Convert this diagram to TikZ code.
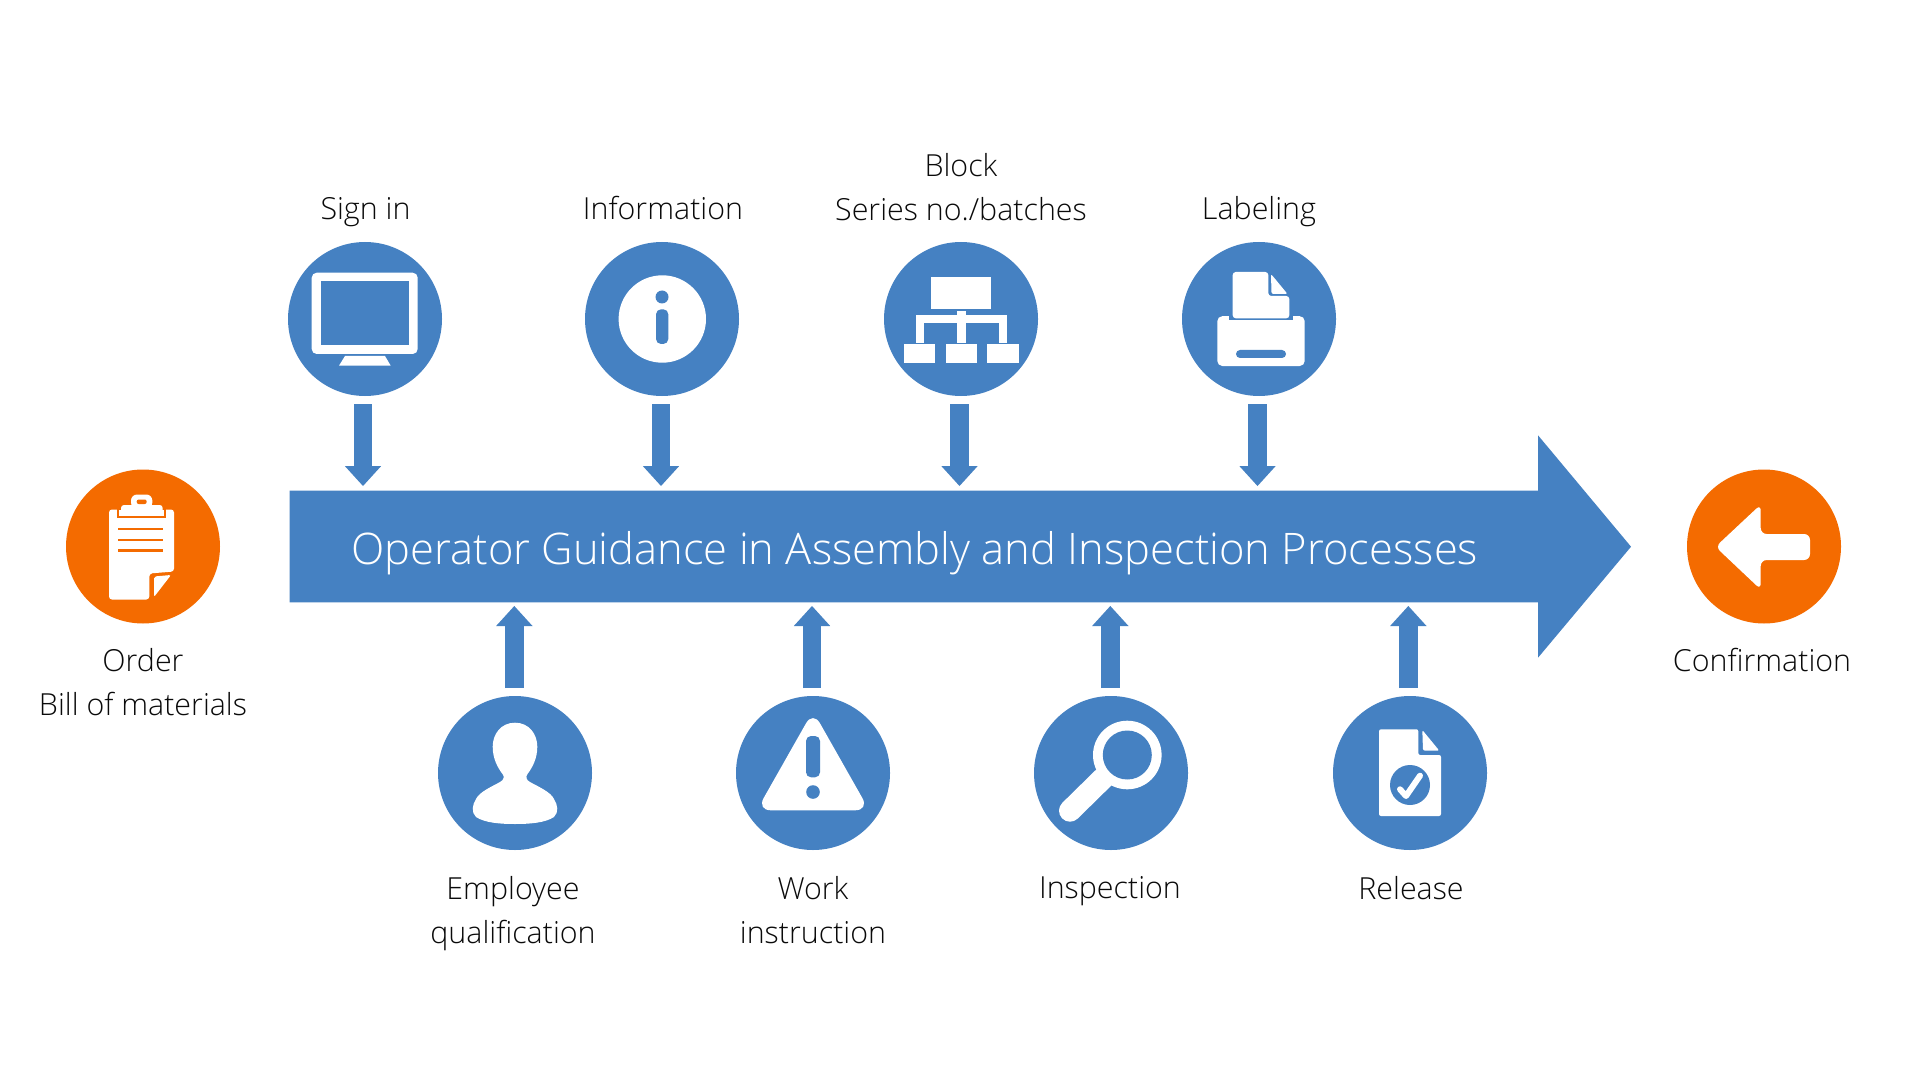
\documentclass[tikz,border=0pt]{standalone}
\usepackage{fontspec}
\usetikzlibrary{arrows.meta}
\setmainfont{Open Sans}[UprightFont=* Light]
\definecolor{fhblue}{HTML}{4581C2}
\definecolor{fhorange}{HTML}{F46B00}
\definecolor{lblk}{HTML}{0A0A0A}
\tikzset{
  bub/.style={circle,fill=fhblue,draw=none,minimum size=77pt,inner sep=0pt},
  bubo/.style={bub,fill=fhorange},
  lab/.style={font=\fontsize{15.2}{22}\selectfont,text=lblk,align=center,inner sep=0pt,anchor=base},
  title/.style={font=\fontsize{21.75}{26}\selectfont,text=white,inner sep=0pt,anchor=base},
  conn/.style={draw=fhblue,line width=9.3pt,-{Triangle[width=18.2pt,length=10pt,line width=0pt]}},
  wh/.style={fill=white,draw=none},
  bl/.style={fill=fhblue,draw=none},
  or/.style={fill=fhorange,draw=none}
}
\begin{document}
\begin{tikzpicture}[x=0.5pt,y=-0.5pt]
\useasboundingbox (0,0) rectangle (1920,1080);
\fill[white] (0,0) rectangle (1920,1080);
% main arrow
\fill[fhblue] (289.5,490.7) -- (1538,490.7) -- (1538,435.3) -- (1631,546.7) -- (1538,657.7) -- (1538,602.3) -- (289.5,602.3) -- cycle;
\node[title] (main) at (914.7,564) {Operator Guidance in Assembly and Inspection Processes};
% circles
\node[bub] (c1) at (365,319) {};
\node[bub] (c2) at (662,319) {};
\node[bub] (c3) at (961,319) {};
\node[bub] (c4) at (1259,319) {};
\node[bub] (d1) at (515,773) {};
\node[bub] (d2) at (813,773) {};
\node[bub] (d3) at (1111,773) {};
\node[bub] (d4) at (1410,773) {};
\node[bubo] (start) at (143,546.5) {};
\node[bubo] (finish) at (1764,546.5) {};
% connector end points
\coordinate (a1s) at (363,404); \coordinate (a1e) at (363,486);
\coordinate (a2s) at (661,404); \coordinate (a2e) at (661,486);
\coordinate (a3s) at (959.5,404); \coordinate (a3e) at (959.5,486);
\coordinate (a4s) at (1257.5,404); \coordinate (a4e) at (1257.5,486);
\coordinate (b1s) at (514.3,688); \coordinate (b1e) at (514.3,606);
\coordinate (b2s) at (812,688); \coordinate (b2e) at (812,606);
\coordinate (b3s) at (1110.3,688); \coordinate (b3e) at (1110.3,606);
\coordinate (b4s) at (1408.3,688); \coordinate (b4e) at (1408.3,606);
\foreach \n in {a1,a2,a3,a4,b1,b2,b3,b4} \draw[conn] (\n s) -- (\n e);
% monitor
\begin{scope}[shift={(c1.center)}]
\fill[wh,rounded corners=2.5pt] (-53.3,-46.3) rectangle (52.7,35);
\fill[bl] (-44.3,-37.7) rectangle (44,26);
\fill[wh] (-20,37) -- (20,37) -- (25.7,46.7) -- (-26,46.7) -- cycle;
\end{scope}
% info
\begin{scope}[shift={(c2.center)}]
\fill[wh] (0.3,0) circle (43.7);
\fill[bl] (0,-22) circle (6.5);
\fill[bl,rounded corners=2.5pt] (-6,-9.7) rectangle (6.3,25);
\end{scope}
% hierarchy
\begin{scope}[shift={(c3.center)}]
\fill[wh] (-30,-42.3) rectangle (30,-9.7);
\fill[wh] (-45.3,-4.3) rectangle (46,4.3);
\fill[wh] (-4,-7.7) rectangle (4.7,23.7);
\fill[wh] (-45.3,-4.3) rectangle (-37,23.7);
\fill[wh] (37.7,-4.3) rectangle (46,23.7);
\fill[wh] (-57,25) rectangle (-25.7,43.7);
\fill[wh] (-15.3,25) rectangle (16,43.7);
\fill[wh] (26.3,25) rectangle (57.7,43.7);
\end{scope}
% printer
\begin{scope}[shift={(c4.center)}]
\fill[wh,rounded corners=2.5pt] (-41.7,-2.8) rectangle (45.7,47);
\fill[bl] (-30,-3.5) rectangle (34,0.8);
\fill[wh,rounded corners=1.5pt] (-26.3,-0.7) -- (-26.3,-47) -- (9.3,-47) -- (9.3,-23) -- (30.3,-23) -- (30.3,-0.7) -- cycle;
\fill[wh,rounded corners=1pt] (12,-45) -- (28.5,-25) -- (12.5,-25) -- cycle;
\fill[bl,rounded corners=2pt] (-23,31) rectangle (27,39);
\end{scope}
% person
\begin{scope}[shift={(d1.center)}]
\fill[wh] (0,-50.3) .. controls (14,-50.3) and (22.3,-39) .. (22.3,-26.3)
 .. controls (22.3,-14) and (17,-5) .. (12.5,1)
 .. controls (10.5,3.5) and (11,7) .. (15,9)
 .. controls (22,13) and (36,19) .. (39,26)
 .. controls (42.7,32) and (44,39) .. (39,44)
 .. controls (30,50) and (14,51) .. (0,51)
 .. controls (-14,51) and (-30,50) .. (-39,44)
 .. controls (-44,39) and (-42.7,32) .. (-39,26)
 .. controls (-36,19) and (-22,13) .. (-15,9)
 .. controls (-11,7) and (-10.5,3.5) .. (-12.5,1)
 .. controls (-17,-5) and (-22.3,-14) .. (-22.3,-26.3)
 .. controls (-22.3,-39) and (-14,-50.3) .. (0,-50.3) -- cycle;
\end{scope}
% warning
\begin{scope}[shift={(d2.center)}]
\fill[wh,rounded corners=7pt] (0,-62) -- (56.3,37.3) -- (-56.3,37.3) -- cycle;
\fill[bl,rounded corners=2.5pt] (-7,-37) -- (7,-37) -- (7,4.3) -- (-7,4.3) -- cycle;
\fill[bl] (0,19) circle (6.8);
\end{scope}
% magnifier
\begin{scope}[shift={(d3.center)}]
\draw[white,line width=11pt,line cap=round] (-7,4.3) -- (-41,37.7);
\fill[wh] (16.3,-18) circle (34.3);
\fill[bl] (16.3,-18) circle (24.5);
\end{scope}
% release document
\begin{scope}[shift={(d4.center)}]
\fill[wh,rounded corners=1pt] (-31,-43.7) -- (8.3,-43.7) -- (8.3,-18) -- (31,-18) -- (31,43) -- (-31,43) -- cycle;
\fill[wh,rounded corners=1pt] (12.3,-43) -- (29.3,-22.3) -- (13,-22.3) -- cycle;
\fill[bl] (0,12) circle (20);
\draw[white,line width=3pt,line cap=round,line join=round] (-10,16.3) -- (-4,23) -- (10,2.7);
\end{scope}
% clipboard
\begin{scope}[shift={(start.center)}]
\fill[wh,rounded corners=1.5pt] (-34,-37) -- (31,-37) -- (31,25) -- (6.3,27) -- (6.3,53) -- (-34,53) -- cycle;
\fill[wh,rounded corners=1pt] (11,30) -- (28,28.5) -- (11,50.5) -- cycle;
\draw[fhorange,line width=1pt] (-25,-40) -- (-25,-30) -- (22,-30) -- (22,-40);
\fill[or] (-25.5,-42) rectangle (22.5,-37);
\fill[wh,rounded corners=1.5pt] (-22,-41.5) rectangle (19.7,-31.5);
\fill[wh,rounded corners=3pt] (-12,-52) rectangle (9.3,-38);
\fill[or,rounded corners=1pt] (-6.3,-47) rectangle (3.7,-42.5);
\foreach \yy in {-17.2,-6.5,4} \draw[fhorange,line width=1.1pt] (-25,\yy) -- (20,\yy);
\end{scope}
% return arrow
\begin{scope}[shift={(finish.center)}]
\fill[wh,rounded corners=3pt] (-48.5,0.3) -- (-3.3,-42) -- (-3.3,-12.5) -- (46,-12.5) -- (46,13.5) -- (-3.3,13.5) -- (-3.3,43) -- cycle;
\end{scope}
% labels
\node[lab] (l1) at (365.5,219.5) {Sign in};
\node[lab] (l2) at (663,219.5) {Information};
\node[lab] (l3) at (961,220.5) {Block\\Series no./batches};
\node[lab] (l4) at (1259,220) {Labeling};
\node[lab] (m1) at (513,943) {Employee\\qualification};
\node[lab] (m2) at (813,943) {Work\\instruction};
\node[lab] (m3) at (1110,898) {Inspection};
\node[lab] (m4) at (1411,899) {Release};
\node[lab] (m5) at (143,715.5) {Order\\Bill of materials};
\node[lab] (m6) at (1762,671.5) {Confirmation};
\end{tikzpicture}
\end{document}
